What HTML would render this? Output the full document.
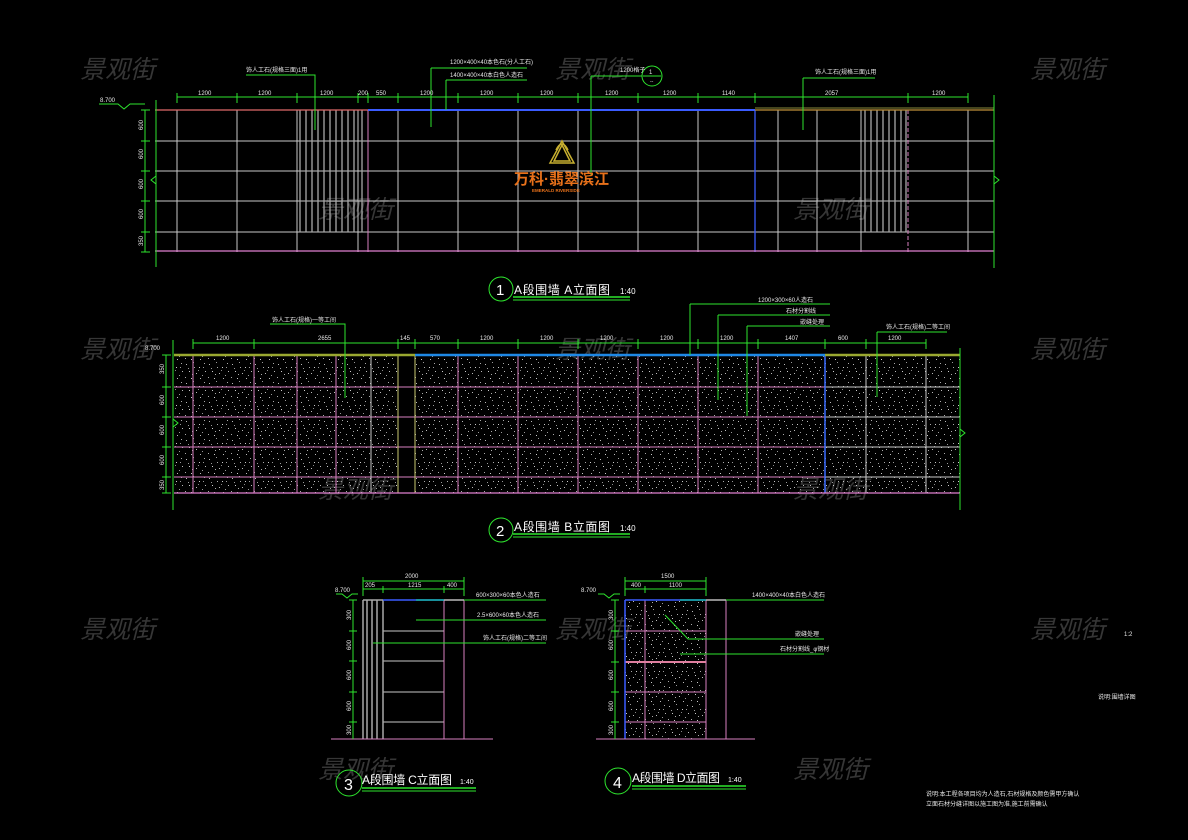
<!DOCTYPE html>
<html><head><meta charset="utf-8"><style>
html,body{margin:0;padding:0;background:#000;}
svg{display:block}
text{font-family:"Liberation Sans","Noto Sans CJK SC",sans-serif;}
.wm{font-family:"Liberation Sans","Noto Sans CJK SC",sans-serif;font-size:25px;font-style:italic;font-weight:normal;fill:#363636;}
.g{stroke:#c8c8c8;stroke-width:1;fill:none}
.p{stroke:#d77fc0;stroke-width:1;fill:none}
.gr{stroke:#2ee52e;stroke-width:1;fill:none}
.t{fill:#e8e8e8;font-size:6px}
.tt{fill:#fff;font-size:12px}
</style></head><body>
<svg width="1188" height="840" viewBox="0 0 1188 840" xmlns="http://www.w3.org/2000/svg">
<defs>
<pattern id="sp" width="23" height="19" patternUnits="userSpaceOnUse">
<rect x="2" y="3" width="1" height="1" fill="#bbb"/><rect x="9" y="1" width="1" height="1" fill="#999"/>
<rect x="15" y="6" width="1" height="1" fill="#ccc"/><rect x="20" y="2" width="1" height="1" fill="#aaa"/>
<rect x="5" y="10" width="1" height="1" fill="#ccc"/><rect x="12" y="12" width="1" height="1" fill="#bbb"/>
<rect x="18" y="14" width="1" height="1" fill="#999"/><rect x="1" y="16" width="1" height="1" fill="#aaa"/>
<rect x="7" y="17" width="1" height="1" fill="#ccc"/><rect x="14" y="9" width="1" height="1" fill="#888"/>
<rect x="21" y="10" width="1" height="1" fill="#bbb"/><rect x="10" y="6" width="1" height="1" fill="#aaa"/>
<rect x="16" y="17" width="1" height="1" fill="#bbb"/><rect x="4" y="7" width="1" height="1" fill="#999"/>
<rect x="8" y="13" width="1" height="1" fill="#aaa"/><rect x="19" y="6" width="1" height="1" fill="#999"/>
</pattern>
</defs>

<g class="wm">
<text x="80" y="78">景观街</text><text x="555" y="78">景观街</text><text x="1030" y="78">景观街</text>
<text x="318" y="218">景观街</text><text x="793" y="218">景观街</text>
<text x="80" y="358">景观街</text><text x="555" y="358">景观街</text><text x="1030" y="358">景观街</text>
<text x="318" y="498">景观街</text><text x="793" y="498">景观街</text>
<text x="80" y="638">景观街</text><text x="555" y="638">景观街</text><text x="1030" y="638">景观街</text>
<text x="318" y="778">景观街</text><text x="793" y="778">景观街</text>
</g>

<!-- ===== Drawing 1 ===== -->
<g class="g">
<line x1="155" y1="141" x2="994" y2="141"/><line x1="155" y1="171" x2="994" y2="171"/>
<line x1="155" y1="201" x2="994" y2="201"/><line x1="155" y1="232" x2="994" y2="232"/>
<line x1="177" y1="110" x2="177" y2="252"/><line x1="237" y1="110" x2="237" y2="252"/>
<line x1="297" y1="110" x2="297" y2="252"/><line x1="358" y1="110" x2="358" y2="252"/>
<line x1="398" y1="110" x2="398" y2="252"/><line x1="458" y1="110" x2="458" y2="252"/>
<line x1="518" y1="110" x2="518" y2="252"/><line x1="578" y1="110" x2="578" y2="252"/>
<line x1="638" y1="110" x2="638" y2="252"/><line x1="698" y1="110" x2="698" y2="252"/>
<line x1="778" y1="110" x2="778" y2="252"/><line x1="817" y1="110" x2="817" y2="252"/>
<line x1="861" y1="110" x2="861" y2="252"/><line x1="968" y1="110" x2="968" y2="252"/>
</g>
<g stroke="#a8a8a8" stroke-width="1.3">
<line x1="300" y1="110" x2="300" y2="232"/><line x1="306" y1="110" x2="306" y2="232"/><line x1="312" y1="110" x2="312" y2="232"/>
<line x1="318" y1="110" x2="318" y2="232"/><line x1="324" y1="110" x2="324" y2="232"/><line x1="330" y1="110" x2="330" y2="232"/>
<line x1="336" y1="110" x2="336" y2="232"/><line x1="342" y1="110" x2="342" y2="232"/><line x1="348" y1="110" x2="348" y2="232"/>
<line x1="354" y1="110" x2="354" y2="232"/><line x1="362" y1="110" x2="362" y2="232"/>
<line x1="865" y1="110" x2="865" y2="232"/><line x1="871" y1="110" x2="871" y2="232"/><line x1="877" y1="110" x2="877" y2="232"/>
<line x1="883" y1="110" x2="883" y2="232"/><line x1="889" y1="110" x2="889" y2="232"/><line x1="895" y1="110" x2="895" y2="232"/>
<line x1="901" y1="110" x2="901" y2="232"/><line x1="906" y1="110" x2="906" y2="232"/>
</g>
<line x1="368" y1="110" x2="368" y2="252" stroke="#d77fc0"/>
<line x1="908" y1="110" x2="908" y2="252" stroke="#d77fc0" stroke-dasharray="4,2"/>
<line x1="755" y1="110" x2="755" y2="252" stroke="#3b5cff" stroke-width="1.3"/>
<line x1="155" y1="110" x2="368" y2="110" stroke="#e06a6a" stroke-width="1.3"/>
<line x1="368" y1="110" x2="755" y2="110" stroke="#3b5cff" stroke-width="2"/>
<line x1="755" y1="110" x2="994" y2="110" stroke="#c0903a" stroke-width="1.3"/>
<line x1="755" y1="108" x2="994" y2="108" stroke="#8a8a3a" stroke-width="1"/>
<line x1="155" y1="251" x2="994" y2="251" stroke="#e07fd0" stroke-width="1.3"/>
<g class="gr">
<line x1="177" y1="97" x2="968" y2="97"/>
<line x1="177" y1="93" x2="177" y2="103"/><line x1="237" y1="93" x2="237" y2="103"/><line x1="297" y1="93" x2="297" y2="103"/>
<line x1="358" y1="93" x2="358" y2="103"/><line x1="368" y1="93" x2="368" y2="103"/><line x1="398" y1="93" x2="398" y2="103"/>
<line x1="458" y1="93" x2="458" y2="103"/><line x1="518" y1="93" x2="518" y2="103"/><line x1="578" y1="93" x2="578" y2="103"/>
<line x1="638" y1="93" x2="638" y2="103"/><line x1="698" y1="93" x2="698" y2="103"/><line x1="755" y1="93" x2="755" y2="103"/>
<line x1="908" y1="93" x2="908" y2="103"/><line x1="968" y1="93" x2="968" y2="103"/>
<line x1="145" y1="110" x2="145" y2="252"/>
<line x1="141" y1="110" x2="150" y2="110"/><line x1="141" y1="141" x2="150" y2="141"/><line x1="141" y1="171" x2="150" y2="171"/>
<line x1="141" y1="201" x2="150" y2="201"/><line x1="141" y1="232" x2="150" y2="232"/><line x1="141" y1="252" x2="150" y2="252"/>
<line x1="156" y1="100" x2="156" y2="267"/><line x1="994" y1="95" x2="994" y2="268"/>
<polyline points="156,176 151,180 156,184"/><polyline points="994,176 999,180 994,184"/>
<polyline points="246,75 315,75 315,130"/>
<polyline points="431,68 527,68"/><polyline points="431,68 431,127"/>
<polyline points="446,80 527,80"/><polyline points="446,80 446,110"/>
<polyline points="591,76 642,76"/><line x1="591" y1="76" x2="591" y2="175"/>
<circle cx="652" cy="76" r="10"/><line x1="643" y1="76" x2="661" y2="76"/>
<polyline points="803,78 875,78"/><line x1="803" y1="78" x2="803" y2="130"/>
<polyline points="99,104 118,104 124,109 130,104 145,104"/>
</g>
<g class="t">
<text x="198" y="95">1200</text><text x="258" y="95">1200</text><text x="320" y="95">1200</text><text x="358" y="95">200</text><text x="376" y="95">550</text>
<text x="420" y="95">1200</text><text x="480" y="95">1200</text><text x="540" y="95">1200</text><text x="605" y="95">1200</text><text x="663" y="95">1200</text>
<text x="722" y="95">1140</text><text x="825" y="95">2057</text><text x="932" y="95">1200</text>
<text x="246" y="72">饰人工石(规格三面)1用</text>
<text x="450" y="64">1200×400×40本色石(分人工石)</text>
<text x="450" y="77">1400×400×40本白色人造石</text>
<text x="620" y="72">1200格子</text>
<text x="815" y="74">饰人工石(规格三面)1用</text>
<text x="100" y="102">8.700</text>
<text x="649" y="74" font-size="6">1</text><text x="650" y="83" font-size="5">--</text>
<g transform="rotate(-90)"><text x="-130" y="143">600</text><text x="-159" y="143">600</text><text x="-189" y="143">600</text><text x="-219" y="143">600</text><text x="-246" y="143">350</text></g>
</g>
<g stroke="#c8b030" stroke-width="1.5" fill="none">
<path d="M562,141 L574,163 L550,163 Z"/><path d="M562,145 L570,161 L554,161 Z"/><path d="M556,150 Q562,138 568,150"/>
</g>
<text x="514" y="184" font-size="15" font-weight="bold" fill="#e8711a">万科·翡翠滨江</text>
<text x="532" y="192" font-size="4.5" font-weight="bold" fill="#e8711a">EMERALD RIVERSIDE</text>
<circle cx="501" cy="289" r="12" class="gr"/>
<text x="496" y="295" font-size="15" fill="#fff">1</text>
<text x="514" y="294" class="tt" textLength="96">A段围墙 A立面图</text><text x="620" y="294" fill="#fff" font-size="8">1:40</text>
<line x1="513" y1="297" x2="630" y2="297" stroke="#2ee52e" stroke-width="1.5"/><line x1="513" y1="300" x2="630" y2="300" stroke="#2ee52e" stroke-width="1"/>

<!-- ===== Drawing 2 ===== -->
<rect x="174" y="355" width="786" height="138" fill="url(#sp)"/>
<rect x="398" y="356" width="17" height="137" fill="#000"/>
<g class="p">
<line x1="174" y1="387" x2="825" y2="387"/><line x1="174" y1="417" x2="825" y2="417"/>
<line x1="174" y1="447" x2="825" y2="447"/><line x1="174" y1="477" x2="825" y2="477"/>
<line x1="193" y1="355" x2="193" y2="493"/><line x1="254" y1="355" x2="254" y2="493"/><line x1="297" y1="355" x2="297" y2="493"/>
<line x1="336" y1="355" x2="336" y2="493"/><line x1="458" y1="355" x2="458" y2="493"/><line x1="518" y1="355" x2="518" y2="493"/>
<line x1="578" y1="355" x2="578" y2="493"/><line x1="638" y1="355" x2="638" y2="493"/><line x1="698" y1="355" x2="698" y2="493"/>
<line x1="758" y1="355" x2="758" y2="493"/>
</g>
<g class="g">
<line x1="825" y1="387" x2="960" y2="387"/><line x1="825" y1="417" x2="960" y2="417"/>
<line x1="825" y1="447" x2="960" y2="447"/><line x1="825" y1="477" x2="960" y2="477"/>
<line x1="371" y1="355" x2="371" y2="493"/><line x1="398" y1="355" x2="398" y2="493" stroke="#c8c870"/><line x1="415" y1="355" x2="415" y2="493" stroke="#c8c870"/>
<line x1="866" y1="355" x2="866" y2="493"/><line x1="926" y1="355" x2="926" y2="493"/>
</g>
<line x1="825" y1="355" x2="825" y2="493" stroke="#3b6cff" stroke-width="1.5"/>
<line x1="174" y1="355" x2="415" y2="355" stroke="#9aa830" stroke-width="2.5"/>
<line x1="415" y1="355" x2="825" y2="355" stroke="#1e88e5" stroke-width="2.5"/>
<line x1="825" y1="355" x2="960" y2="355" stroke="#9aa830" stroke-width="2.5"/>
<line x1="174" y1="493" x2="960" y2="493" stroke="#e07fd0" stroke-width="1.3"/>
<g class="gr">
<line x1="193" y1="343" x2="926" y2="343"/>
<line x1="193" y1="339" x2="193" y2="349"/><line x1="254" y1="339" x2="254" y2="349"/><line x1="398" y1="339" x2="398" y2="349"/>
<line x1="415" y1="339" x2="415" y2="349"/><line x1="458" y1="339" x2="458" y2="349"/><line x1="518" y1="339" x2="518" y2="349"/>
<line x1="578" y1="339" x2="578" y2="349"/><line x1="638" y1="339" x2="638" y2="349"/><line x1="698" y1="339" x2="698" y2="349"/>
<line x1="758" y1="339" x2="758" y2="349"/><line x1="825" y1="339" x2="825" y2="349"/><line x1="866" y1="339" x2="866" y2="349"/><line x1="926" y1="339" x2="926" y2="349"/>
<line x1="166" y1="355" x2="166" y2="493"/>
<line x1="162" y1="355" x2="171" y2="355"/><line x1="162" y1="387" x2="171" y2="387"/><line x1="162" y1="417" x2="171" y2="417"/>
<line x1="162" y1="447" x2="171" y2="447"/><line x1="162" y1="477" x2="171" y2="477"/><line x1="162" y1="493" x2="171" y2="493"/>
<line x1="173" y1="340" x2="173" y2="510"/><line x1="960" y1="348" x2="960" y2="510"/>
<polyline points="173,419 178,423 173,427"/><polyline points="960,429 965,433 960,437"/>
<polyline points="270,324 345,324 345,398"/>
<polyline points="690,304 830,304"/><line x1="690" y1="304" x2="690" y2="355"/>
<polyline points="718,315 830,315"/><line x1="718" y1="315" x2="718" y2="400"/>
<polyline points="747,326 830,326"/><line x1="747" y1="326" x2="747" y2="416"/>
<polyline points="877,332 947,332"/><line x1="877" y1="332" x2="877" y2="397"/>
</g>
<g class="t">
<text x="216" y="340">1200</text><text x="318" y="340">2655</text><text x="400" y="340">145</text><text x="430" y="340">570</text>
<text x="480" y="340">1200</text><text x="540" y="340">1200</text><text x="600" y="340">1200</text><text x="660" y="340">1200</text>
<text x="720" y="340">1200</text><text x="785" y="340">1407</text><text x="838" y="340">600</text><text x="888" y="340">1200</text>
<text x="272" y="322">饰人工石(规格)一等工间</text>
<text x="758" y="302">1200×300×60人造石</text><text x="786" y="313">石材分割线</text><text x="800" y="324">嵌缝处理</text>
<text x="886" y="329">饰人工石(规格)二等工间</text>
<text x="145" y="350">8.700</text>
<g transform="rotate(-90)"><text x="-374" y="164">350</text><text x="-405" y="164">600</text><text x="-435" y="164">600</text><text x="-465" y="164">600</text><text x="-490" y="164">350</text></g>
</g>
<circle cx="501" cy="530" r="12" class="gr"/>
<text x="496" y="536" font-size="15" fill="#fff">2</text>
<text x="514" y="531" class="tt" textLength="96">A段围墙 B立面图</text><text x="620" y="531" fill="#fff" font-size="8">1:40</text>
<line x1="513" y1="534" x2="630" y2="534" stroke="#2ee52e" stroke-width="1.5"/><line x1="513" y1="537" x2="630" y2="537" stroke="#2ee52e" stroke-width="1"/>

<!-- ===== Drawing 3 ===== -->
<g class="g">
<line x1="383" y1="631" x2="444" y2="631"/><line x1="383" y1="661" x2="444" y2="661"/>
<line x1="383" y1="692" x2="444" y2="692"/><line x1="383" y1="722" x2="444" y2="722"/>
</g>
<g stroke="#a8a8a8" stroke-width="1.5">
<line x1="363" y1="600" x2="363" y2="739"/><line x1="367" y1="600" x2="367" y2="739"/><line x1="372" y1="600" x2="372" y2="739"/>
<line x1="377" y1="600" x2="377" y2="739"/><line x1="383" y1="600" x2="383" y2="739"/>
</g>
<line x1="444" y1="600" x2="444" y2="739" stroke="#d77fc0"/>
<line x1="464" y1="600" x2="464" y2="739" stroke="#d77fc0"/>
<line x1="363" y1="600" x2="383" y2="600" stroke="#a8a8a8" stroke-width="1.5"/>
<line x1="383" y1="600" x2="416" y2="600" stroke="#3b5cff" stroke-width="1.5"/>
<line x1="416" y1="600" x2="444" y2="600" stroke="#20c0d0" stroke-width="1.5"/>
<line x1="444" y1="600" x2="464" y2="600" stroke="#bbb" stroke-width="1.5"/>
<line x1="331" y1="739" x2="493" y2="739" stroke="#d77fc0"/>
<g class="gr">
<line x1="363" y1="581" x2="464" y2="581"/><line x1="363" y1="589" x2="464" y2="589"/>
<line x1="363" y1="577" x2="363" y2="596"/><line x1="383" y1="586" x2="383" y2="593"/><line x1="444" y1="586" x2="444" y2="593"/><line x1="464" y1="577" x2="464" y2="596"/>
<line x1="353" y1="600" x2="353" y2="739"/>
<line x1="349" y1="600" x2="357" y2="600"/><line x1="349" y1="631" x2="357" y2="631"/><line x1="349" y1="661" x2="357" y2="661"/>
<line x1="349" y1="692" x2="357" y2="692"/><line x1="349" y1="722" x2="357" y2="722"/>
<line x1="464" y1="600" x2="546" y2="600"/><line x1="416" y1="620" x2="546" y2="620"/><line x1="373" y1="643" x2="546" y2="643"/>
<polyline points="336,594 342,594 347,598 352,594 358,594"/>
</g>
<g class="t">
<text x="405" y="578">2000</text><text x="365" y="587">205</text><text x="408" y="587">1215</text><text x="447" y="587">400</text>
<text x="476" y="597">600×300×60本色人造石</text><text x="477" y="617">2.5×600×60本色人造石</text><text x="483" y="640">饰人工石(规格)二等工间</text>
<text x="335" y="592">8.700</text>
<g transform="rotate(-90)"><text x="-620" y="351">300</text><text x="-650" y="351">600</text><text x="-680" y="351">600</text><text x="-711" y="351">600</text><text x="-735" y="351">300</text></g>
</g>
<circle cx="349" cy="783" r="13" class="gr"/>
<text x="344" y="790" font-size="16" fill="#fff">3</text>
<text x="362" y="784" class="tt" textLength="90">A段围墙 C立面图</text><text x="460" y="784" fill="#fff" font-size="7">1:40</text>
<line x1="362" y1="788" x2="476" y2="788" stroke="#2ee52e" stroke-width="1.5"/><line x1="362" y1="791" x2="476" y2="791" stroke="#2ee52e" stroke-width="1"/>

<!-- ===== Drawing 4 ===== -->
<rect x="625" y="600" width="81" height="139" fill="url(#sp)"/>
<g class="p">
<line x1="625" y1="631" x2="706" y2="631"/><line x1="625" y1="692" x2="706" y2="692"/><line x1="625" y1="722" x2="706" y2="722"/>
<line x1="645" y1="600" x2="645" y2="739"/><line x1="706" y1="600" x2="706" y2="739"/><line x1="726" y1="600" x2="726" y2="739"/>
</g>
<line x1="625" y1="662" x2="706" y2="662" stroke="#e07fa0" stroke-width="2"/>
<line x1="625" y1="600" x2="625" y2="739" stroke="#3b5cff" stroke-width="1.5"/>
<line x1="625" y1="600" x2="680" y2="600" stroke="#3b5cff" stroke-width="1.5"/>
<line x1="680" y1="600" x2="706" y2="600" stroke="#20c0d0" stroke-width="1.5"/>
<line x1="706" y1="600" x2="726" y2="600" stroke="#bbb" stroke-width="1.5"/>
<line x1="596" y1="739" x2="755" y2="739" stroke="#d77fc0"/>
<g class="gr">
<line x1="625" y1="581" x2="706" y2="581"/><line x1="625" y1="589" x2="706" y2="589"/>
<line x1="625" y1="577" x2="625" y2="596"/><line x1="645" y1="586" x2="645" y2="593"/><line x1="706" y1="577" x2="706" y2="596"/>
<line x1="615" y1="600" x2="615" y2="739"/>
<line x1="611" y1="600" x2="619" y2="600"/><line x1="611" y1="631" x2="619" y2="631"/><line x1="611" y1="662" x2="619" y2="662"/>
<line x1="611" y1="692" x2="619" y2="692"/><line x1="611" y1="722" x2="619" y2="722"/>
<line x1="726" y1="600" x2="824" y2="600"/>
<polyline points="665,615 688,639 824,639"/><line x1="680" y1="654" x2="824" y2="654"/>
<polyline points="598,594 604,594 609,598 614,594 620,594"/>
</g>
<g class="t">
<text x="661" y="578">1500</text><text x="631" y="587">400</text><text x="669" y="587">1100</text>
<text x="752" y="597">1400×400×40本白色人造石</text><text x="795" y="636">嵌缝处理</text><text x="780" y="651">石材分割线_φ钢材</text>
<text x="581" y="592">8.700</text>
<g transform="rotate(-90)"><text x="-620" y="613">300</text><text x="-650" y="613">600</text><text x="-680" y="613">600</text><text x="-711" y="613">600</text><text x="-735" y="613">300</text></g>
</g>
<circle cx="618" cy="781" r="13" class="gr"/>
<text x="613" y="788" font-size="16" fill="#fff">4</text>
<text x="632" y="782" class="tt" textLength="88">A段围墙 D立面图</text><text x="728" y="782" fill="#fff" font-size="7">1:40</text>
<line x1="632" y1="786" x2="746" y2="786" stroke="#2ee52e" stroke-width="1.5"/><line x1="632" y1="789" x2="746" y2="789" stroke="#2ee52e" stroke-width="1"/>

<g class="t">
<text x="1124" y="636">1:2</text>
<text x="1098" y="699">说明:围墙详图</text>
<text x="926" y="796">说明:本工程各项目均为人造石,石材规格及颜色需甲方确认</text>
<text x="926" y="806">立面石材分缝详图以施工图为准,施工前需确认</text>
</g>
</svg>
</body></html>
